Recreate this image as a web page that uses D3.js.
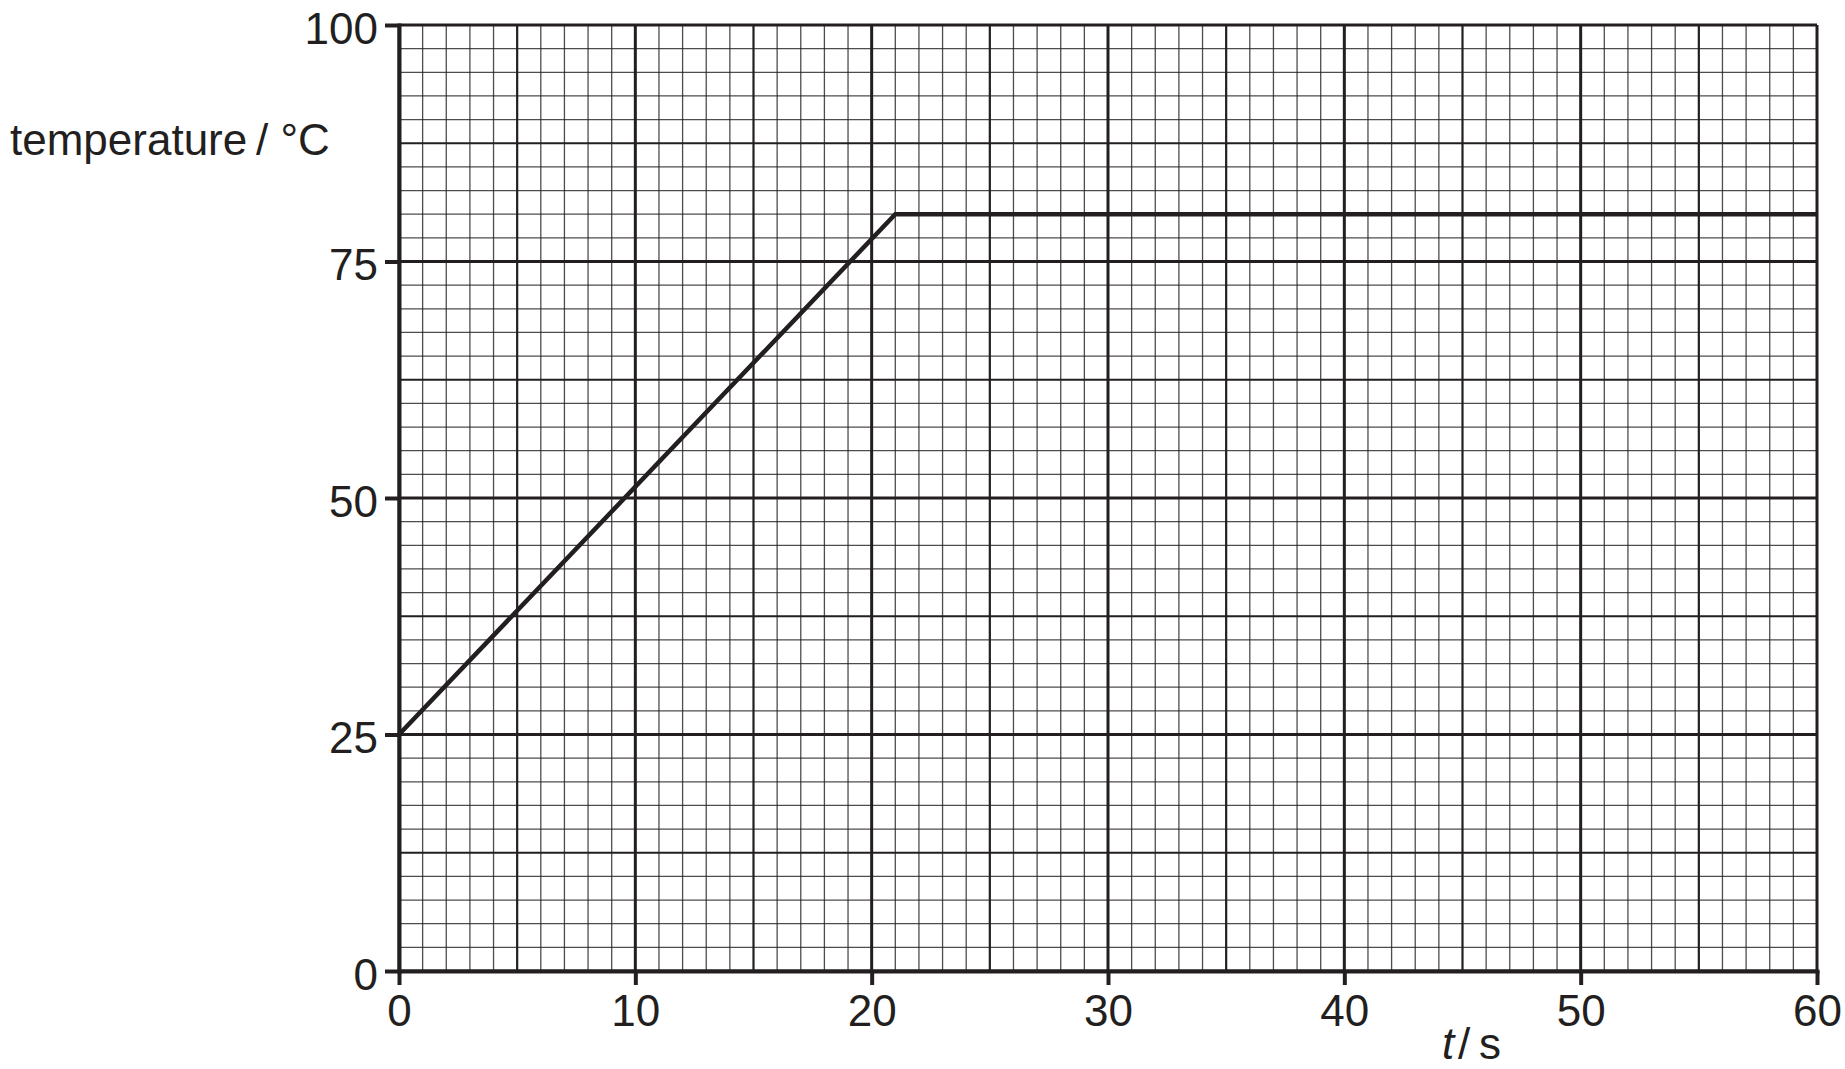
<!DOCTYPE html>
<html>
<head>
<meta charset="utf-8">
<script src="https://cdn.jsdelivr.net/npm/d3@7"></script>
<style>
  html, body { margin: 0; padding: 0; background: #fff; }
  svg { display: block; }
  text { font-family: "Liberation Sans", Arial, sans-serif; fill: #231f20; }
</style>
</head>
<body>
<div id="chart"></div>
<script>
// temperature against time
const timeSeconds = [0, 21, 60];
const temperatureC = [25, 80, 80];

const xTicks = [0, 10, 20, 30, 40, 50, 60];
const yTicks = [0, 25, 50, 75, 100];

const width = 1845;
const height = 1069;
const margin = { top: 25, right: 28, bottom: 98, left: 399 };
const ink = '#231f20';

const svg = d3.select('#chart').append('svg')
  .attr('width', width)
  .attr('height', height);

svg.append('rect').attr('width', width).attr('height', height).attr('fill', '#fff');

const x = d3.scaleLinear().domain([0, 60]).range([margin.left, width - margin.right]);
const y = d3.scaleLinear().domain([0, 100]).range([height - margin.bottom, margin.top]);

// graph paper: 1 s by 2.5 °C squares, heavier every 5 s / 12.5 °C, heaviest on the labelled values
const grid = svg.append('g').attr('class', 'grid');

const xLines = d3.range(0, 61, 1);
const yLines = d3.range(0, 101, 2.5);

const xWeight = v => v % 10 === 0 ? 3 : v % 5 === 0 ? 2.2 : 1.3;
const yWeight = v => v % 25 === 0 ? 3 : v % 12.5 === 0 ? 2.2 : 1.3;

grid.selectAll('line.v')
  .data(xLines)
  .join('line')
  .attr('class', 'v')
  .attr('x1', d => x(d)).attr('x2', d => x(d))
  .attr('y1', y(0)).attr('y2', y(100))
  .attr('stroke', ink)
  .attr('stroke-opacity', d => xWeight(d) > 1.5 ? 1 : 0.8)
  .attr('stroke-width', xWeight);

grid.selectAll('line.h')
  .data(yLines)
  .join('line')
  .attr('class', 'h')
  .attr('x1', x(0)).attr('x2', x(60))
  .attr('y1', d => y(d)).attr('y2', d => y(d))
  .attr('stroke', ink)
  .attr('stroke-opacity', d => yWeight(d) > 1.5 ? 1 : 0.8)
  .attr('stroke-width', yWeight);

// the plotted line
const line = d3.line()
  .x((d, i) => x(timeSeconds[i]))
  .y(d => y(d));

svg.append('path')
  .datum(temperatureC)
  .attr('fill', 'none')
  .attr('stroke', ink)
  .attr('stroke-width', 4.5)
  .attr('stroke-linejoin', 'miter')
  .attr('d', line);

// axes
const xAxis = svg.append('g')
  .attr('transform', `translate(0,${y(0)})`)
  .call(d3.axisBottom(x).tickValues(xTicks).tickSize(14).tickSizeOuter(0).tickPadding(10).tickFormat(d3.format('d')));

const yAxis = svg.append('g')
  .attr('transform', `translate(${x(0)},0)`)
  .call(d3.axisLeft(y).tickValues(yTicks).tickSize(14).tickSizeOuter(0).tickPadding(7).tickFormat(d3.format('d')));

for (const ax of [xAxis, yAxis]) {
  ax.attr('font-size', null).attr('font-family', null);
  ax.select('.domain').attr('stroke', ink).attr('stroke-width', 4).attr('stroke-linecap', 'square');
  ax.selectAll('.tick line').attr('stroke', ink).attr('stroke-width', 4);
  ax.selectAll('.tick text').style('font-size', '44px').attr('fill', ink);
}
yAxis.selectAll('.tick text').attr('dy', '0.41em');

// axis titles
svg.append('text')
  .attr('x', 10)
  .attr('y', 155)
  .style('font-size', '44px')
  .text('temperature\u2009/ °C');

const xTitle = svg.append('text')
  .attr('x', 1442)
  .attr('y', 1059)
  .style('font-size', '44px');
xTitle.append('tspan').attr('font-style', 'italic').text('t');
xTitle.append('tspan').text('\u200a/\u2009s');
</script>
</body>
</html>
